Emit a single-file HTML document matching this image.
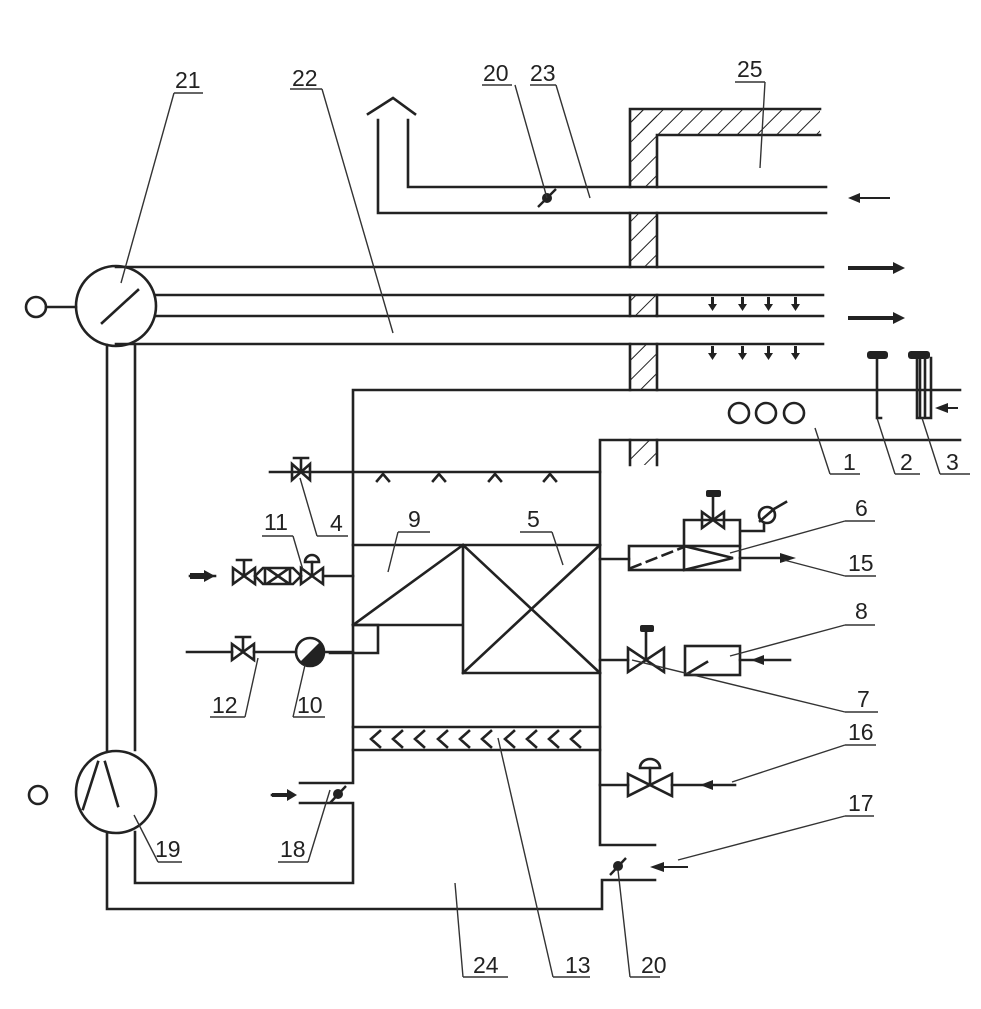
<!DOCTYPE html>
<html><head><meta charset="utf-8"><style>
html,body{margin:0;padding:0;background:#fff;}
svg{display:block;}
text{font-family:"Liberation Sans",sans-serif;font-size:23px;fill:#222;}
</style></head><body>
<svg width="981" height="1009" viewBox="0 0 981 1009" xmlns="http://www.w3.org/2000/svg">
<defs>
<pattern id="h" width="14" height="14" patternUnits="userSpaceOnUse" patternTransform="rotate(45)">
<line x1="0" y1="0" x2="0" y2="14" stroke="#222" stroke-width="2"/>
</pattern>
</defs>
<g stroke="#222" stroke-width="2.6" fill="none" stroke-linecap="square">
<!-- wall -->
<rect x="630" y="109" width="190" height="26" fill="url(#h)" stroke="none"/>
<rect x="630" y="109" width="27" height="78" fill="url(#h)" stroke="none"/>
<rect x="630" y="213" width="27" height="54" fill="url(#h)" stroke="none"/>
<rect x="630" y="295" width="27" height="21" fill="url(#h)" stroke="none"/>
<rect x="630" y="344" width="27" height="46" fill="url(#h)" stroke="none"/>
<rect x="630" y="440" width="27" height="25" fill="url(#h)" stroke="none"/>
<path d="M630 187V109H820M657 187V135H820M630 213V267M657 213V267M630 295V316M657 295V316M630 344V390M657 344V390M630 440V465M657 440V465"/>
<!-- exhaust duct -->
<path d="M378 120V213H826M408 120V187H826M368 114L393 98L415 114"/>
<!-- supply lines -->
<path d="M116 267H823M155 295H823M155 316H823M116 344H823"/>
<!-- fan 21 -->
<circle cx="116" cy="306" r="40"/>
<line x1="102" y1="323" x2="138" y2="290"/>
<circle cx="36" cy="307" r="10"/>
<line x1="46" y1="307" x2="76" y2="307"/>
<!-- vertical ducts -->
<path d="M107 345V750M135 345V750"/>
<ellipse cx="116" cy="792" rx="40" ry="41"/>
<path d="M98 762L83 809M105 762L118 806"/>
<circle cx="38" cy="795" r="9"/>
<path d="M107 833V909H602V880H655M135 832V883H353V803H300M300 783H353V390H960M600 845H655M600 845V440H960"/>
<!-- spray -->
<path d="M270 472H600"/>
<path d="M377 481L383 474L389 481M433 481L439 474L445 481M489 481L495 474L501 481M544 481L550 474L556 481"/>
<!-- coil section -->
<path d="M353 545H600M353 625L463 545M353 625H463M463 545V673H600M463 545L600 673M463 673L600 545M353 625V625"/>
<path d="M353 625H378V653H330"/>
<!-- eliminator -->
<path d="M353 727H600M353 750H600"/>
<path d="M380 731L371 739L380 747M402 731L393 739L402 747M424 731L415 739L424 747M447 731L438 739L447 747M469 731L460 739L469 747M491 731L482 739L491 747M514 731L505 739L514 747M536 731L527 739L536 747M558 731L549 739L558 747M580 731L571 739L580 747"/>
<!-- pipe 4 -->
<path d="M292 464L310 480V464L292 480Z M301 472V458M294 458H308"/>
<!-- pipe 11 -->
<path d="M190 576H215M325 576H353"/>
<path d="M233 568L255 584V568L233 584Z M244 576V560M237 560H251"/>
<path d="M255 576L263 568H293L301 576L293 584H263Z M265 568V584M290 568V584M268 569L288 583M268 583L288 569"/>
<path d="M301 568L323 584V568L301 584Z M312 576V562"/>
<path d="M305 562A7 7 0 0 1 319 562Z"/>
<!-- pipe 12 -->
<path d="M187 652H232M254 652H296M324 652H353"/>
<path d="M232 644L254 660V644L232 660Z M243 652V637M236 637H250"/>
<circle cx="310" cy="652" r="14"/>
<!-- damper 18 -->
<path d="M272 795H290"/>
<!-- right side 6 -->
<path d="M600 559H629"/>
<rect x="629" y="546" width="111" height="24"/>
<path d="M684 546V570M684 546L733 558L684 570M684 546V520H740V546M740 531H764V523"/>
<path d="M631 568L684 547" stroke-dasharray="10 7"/>
<path d="M702 512L724 528V512L702 528Z M713 520V497"/>
<path d="M740 558H790"/>
<circle cx="767" cy="515" r="8"/>
<path d="M760 521L774 509M774 509L786 502"/>
<!-- valve 7 / box 8 -->
<path d="M600 660H628"/>
<path d="M628 648L664 672V648L628 672Z M646 660V632"/>
<rect x="685" y="646" width="55" height="29"/>
<path d="M687 674L707 662M740 660H790"/>
<!-- valve 16 -->
<path d="M600 785H628M672 785H735"/>
<path d="M628 774L672 796V774L628 796Z M650 785V768"/>
<path d="M640 768A10 9 0 0 1 660 768Z"/>
<!-- circles ooo -->
<circle cx="739" cy="413" r="10"/>
<circle cx="766" cy="413" r="10"/>
<circle cx="794" cy="413" r="10"/>
<!-- instruments -->
<path d="M877 358V418H881M917 358V418H931V358"/>
<path d="M920 360V416M925 360V416"/>
</g>
<g fill="#222" stroke="none">
<rect x="867" y="351" width="21" height="8" rx="3"/>
<rect x="908" y="351" width="22" height="8" rx="3"/>
<rect x="706" y="490" width="15" height="7" rx="2"/>
<rect x="640" y="625" width="14" height="7" rx="2"/>
<!-- arrows -->
<path d="M190 573H204V570L215 576L204 582V579H190Z"/>
<path d="M272 793H287V789L297 795L287 801V797H272Z"/>
<path d="M890 197H860V193L848 198L860 203V199H890Z"/>
<path d="M848 266H893V262L905 268L893 274V270H848Z"/>
<path d="M848 316H893V312L905 318L893 324V320H848Z"/>
<path d="M958 407H948V403L935 408L948 413V409H958Z"/>
<path d="M790 557H780V553L796 558L780 563V559H790Z"/>
<path d="M790 659H764V655L751 660L764 665V661H790Z"/>
<path d="M735 784H713V780L700 785L713 790V786H735Z"/>
<path d="M688 866H664V862L650 867L664 872V868H688Z"/>
<!-- small down arrows -->
<g>
<path d="M711 297h3v7h3l-4.5 7l-4.5-7h3z"/><path d="M741 297h3v7h3l-4.5 7l-4.5-7h3z"/><path d="M767 297h3v7h3l-4.5 7l-4.5-7h3z"/><path d="M794 297h3v7h3l-4.5 7l-4.5-7h3z"/>
<path d="M711 346h3v7h3l-4.5 7l-4.5-7h3z"/><path d="M741 346h3v7h3l-4.5 7l-4.5-7h3z"/><path d="M767 346h3v7h3l-4.5 7l-4.5-7h3z"/><path d="M794 346h3v7h3l-4.5 7l-4.5-7h3z"/>
</g>
<!-- pump 10 fill -->
<path d="M320 642A14 14 0 0 1 300 662Z"/>
<!-- dampers -->
<circle cx="547" cy="198" r="5"/>
<circle cx="338" cy="794" r="5"/>
<circle cx="618" cy="866" r="5"/>
</g>
<g stroke="#222" stroke-width="2.4">
<line x1="538" y1="207" x2="556" y2="189"/>
<line x1="330" y1="803" x2="346" y2="786"/>
<line x1="610" y1="875" x2="626" y2="858"/>
</g>
<!-- leaders -->
<g stroke="#333" stroke-width="1.4" fill="none">
<path d="M174 93H203M174 93L121 283"/>
<path d="M290 89H322M322 89L393 333"/>
<path d="M482 85H512M515 85L547 198"/>
<path d="M530 85H556M556 85L590 198"/>
<path d="M735 82H765M765 82L760 168"/>
<path d="M830 474H860M830 474L815 428"/>
<path d="M895 474H920M895 474L877 418"/>
<path d="M940 474H970M940 474L922 418"/>
<path d="M317 536H348M317 536L300 478"/>
<path d="M398 532H430M398 532L388 572"/>
<path d="M520 532H552M552 532L563 565"/>
<path d="M262 536H293M293 536L303 570"/>
<path d="M845 521H875M845 521L730 553"/>
<path d="M845 576H876M845 576L784 560"/>
<path d="M845 625H875M845 625L730 656"/>
<path d="M845 712H878M845 712L632 660"/>
<path d="M845 745H876M845 745L732 782"/>
<path d="M845 816H874M845 816L678 860"/>
<path d="M210 717H245M245 717L258 658"/>
<path d="M293 717H325M293 717L305 665"/>
<path d="M158 862H182M158 862L134 815"/>
<path d="M278 862H308M308 862L330 790"/>
<path d="M463 977H508M463 977L455 883"/>
<path d="M553 977H590M553 977L498 738"/>
<path d="M630 977H660M630 977L618 870"/>
</g>
<g>
<text x="175" y="88">21</text>
<text x="292" y="86">22</text>
<text x="483" y="81">20</text>
<text x="530" y="81">23</text>
<text x="737" y="77">25</text>
<text x="843" y="470">1</text>
<text x="900" y="470">2</text>
<text x="946" y="470">3</text>
<text x="330" y="531">4</text>
<text x="408" y="527">9</text>
<text x="527" y="527">5</text>
<text x="264" y="530">11</text>
<text x="855" y="516">6</text>
<text x="848" y="571">15</text>
<text x="855" y="619">8</text>
<text x="857" y="707">7</text>
<text x="848" y="740">16</text>
<text x="848" y="811">17</text>
<text x="212" y="713">12</text>
<text x="297" y="713">10</text>
<text x="155" y="857">19</text>
<text x="280" y="857">18</text>
<text x="473" y="973">24</text>
<text x="565" y="973">13</text>
<text x="641" y="973">20</text>
</g>
</svg>
</body></html>
